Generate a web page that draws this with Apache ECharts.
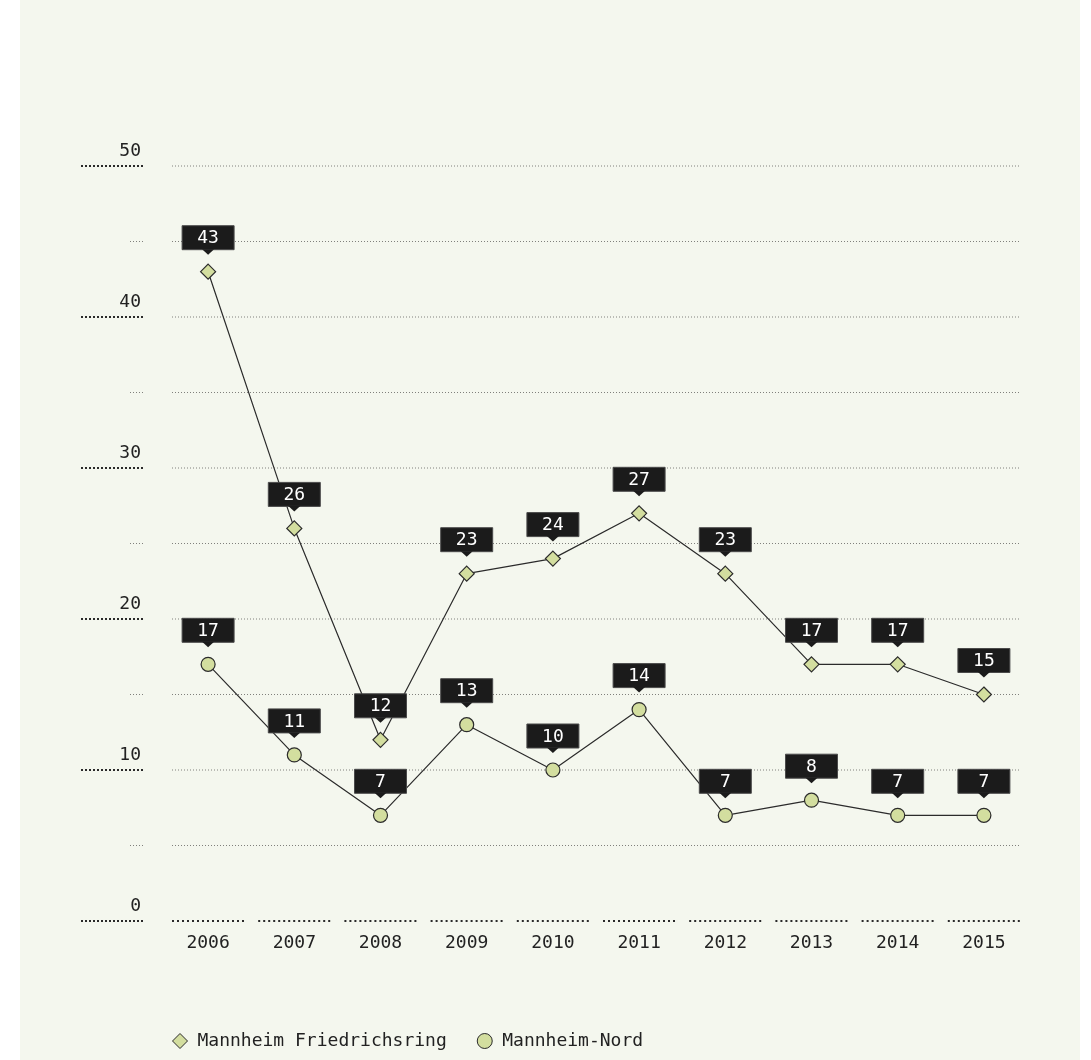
<!DOCTYPE html>
<html>
<head>
<meta charset="utf-8">
<script src="https://cdn.jsdelivr.net/npm/echarts@6/dist/echarts.min.js"></script>
<style>
  html, body { margin: 0; padding: 0; background: #ffffff; }
  #chart { position: absolute; left: 20px; top: 0; width: 1060px; height: 1060px; }
</style>
</head>
<body>
<div id="chart"></div>
<script>
// Years on the x axis
const years = ['2006', '2007', '2008', '2009', '2010', '2011', '2012', '2013', '2014', '2015'];

// Series values
const friedrichsring = [43, 26, 12, 23, 24, 27, 23, 17, 17, 15];
const nord = [17, 11, 7, 13, 10, 14, 7, 8, 7, 7];

// Series names
const nameFriedrichsring = 'Mannheim Friedrichsring';
const nameNord = 'Mannheim-Nord';

// Y axis range and dotted grid levels
const yMin = 0;
const yMax = 50;
const yStep = 10;
const gridLevels = [5, 10, 15, 20, 25, 30, 35, 40, 45, 50];

const FONT = '"DejaVu Sans Mono", "Liberation Mono", monospace';
const INK = '#222222';
const LINE = '#2b2b2b';
const FILL = '#d3de9f';
const BOX = '#1b1b1b';
const INSET = 7;

const chart = echarts.init(document.getElementById('chart'));

// Dotted horizontal grid lines, inset slightly from the outer category bands
function renderGrid(params, api) {
  const v = api.value(0);
  const bw = api.size([1, 0])[0];
  const p0 = api.coord([0, v]);
  const p1 = api.coord([years.length - 1, v]);
  return {
    type: 'line',
    shape: { x1: p0[0] - bw / 2 + INSET, y1: p0[1], x2: p1[0] + bw / 2 - INSET, y2: p1[1] },
    style: { stroke: '#80807c', lineWidth: 1, lineDash: [1, 2] },
    silent: true
  };
}

// Segmented dotted baseline, one piece under each year
function renderBase(params, api) {
  const i = api.value(0);
  const bw = api.size([1, 0])[0];
  const p = api.coord([i, yMin]);
  return {
    type: 'line',
    shape: { x1: p[0] - bw / 2 + INSET, y1: p[1], x2: p[0] + bw / 2 - INSET, y2: p[1] },
    style: { stroke: '#2a2a2a', lineWidth: 2, lineDash: [2, 3] },
    silent: true
  };
}

// Black value tag with a small pointer above each marker
function renderTag(params, api) {
  const i = api.value(0);
  const v = api.value(1);
  const p = api.coord([i, v]);
  const w = 52, h = 24, gap = 22, tip = 17, half = 6;
  const top = p[1] - gap - h;
  return {
    type: 'group',
    children: [
      {
        type: 'rect',
        shape: { x: p[0] - w / 2, y: top, width: w, height: h },
        style: { fill: BOX, stroke: '#4a4a4a', lineWidth: 1 }
      },
      {
        type: 'polygon',
        shape: { points: [[p[0] - half, p[1] - gap - 0.5], [p[0] + half, p[1] - gap - 0.5], [p[0], p[1] - tip]] },
        style: { fill: BOX }
      },
      {
        type: 'text',
        style: {
          text: String(v),
          x: p[0], y: top + h / 2 + 1,
          align: 'center', verticalAlign: 'middle',
          fill: '#ffffff', font: '18px ' + FONT
        }
      }
    ]
  };
}

const tagData = years.map((y, i) => [i, friedrichsring[i]])
  .concat(years.map((y, i) => [i, nord[i]]));

chart.setOption({
  backgroundColor: '#f4f7ee',
  animation: false,
  textStyle: { fontFamily: FONT },
  grid: { left: 145, right: 53, top: 166, bottom: 139 },
  legend: {
    data: [
      { name: nameFriedrichsring, icon: 'diamond' },
      { name: nameNord, icon: 'circle' }
    ],
    left: 152,
    top: 1032,
    padding: 0,
    itemWidth: 15,
    itemHeight: 15,
    itemGap: 30,
    itemStyle: { color: FILL, borderColor: LINE, borderWidth: 1 },
    textStyle: { fontFamily: FONT, fontSize: 18, color: INK, padding: [0, 0, 0, 5] }
  },
  xAxis: {
    type: 'category',
    data: years,
    boundaryGap: true,
    axisLine: { show: false },
    axisTick: { show: false },
    axisLabel: { fontFamily: FONT, fontSize: 18, color: INK, margin: 13 },
    splitLine: { show: false }
  },
  yAxis: {
    type: 'value',
    min: yMin,
    max: yMax,
    interval: yStep,
    offset: 22,
    axisLine: { show: false },
    axisTick: { show: true, length: 63, lineStyle: { color: '#2a2a2a', width: 2, type: [2, 2] } },
    minorTick: { show: true, splitNumber: 2, length: 15, lineStyle: { color: '#80807c', width: 1, type: [1, 2] } },
    axisLabel: {
      fontFamily: FONT, fontSize: 18, color: INK, margin: 2,
      verticalAlign: 'bottom', padding: [0, 0, 6, 0]
    },
    splitLine: { show: false },
    minorSplitLine: { show: false }
  },
  series: [
    {
      type: 'custom',
      name: 'grid',
      renderItem: renderGrid,
      data: gridLevels.map(v => [v]),
      encode: { y: 0 },
      z: 0,
      silent: true
    },
    {
      type: 'custom',
      name: 'base',
      renderItem: renderBase,
      data: years.map((y, i) => [i]),
      encode: { x: 0 },
      z: 0,
      silent: true
    },
    {
      name: nameFriedrichsring,
      type: 'line',
      data: friedrichsring,
      symbol: 'diamond',
      symbolSize: 15,
      lineStyle: { color: LINE, width: 1.2 },
      itemStyle: { color: FILL, borderColor: LINE, borderWidth: 1.2 },
      z: 3
    },
    {
      name: nameNord,
      type: 'line',
      data: nord,
      symbol: 'circle',
      symbolSize: 14,
      lineStyle: { color: LINE, width: 1.2 },
      itemStyle: { color: FILL, borderColor: LINE, borderWidth: 1.2 },
      z: 3
    },
    {
      type: 'custom',
      name: 'tags',
      renderItem: renderTag,
      data: tagData,
      encode: { x: 0, y: 1 },
      z: 5,
      silent: true
    }
  ]
});
</script>
</body>
</html>
